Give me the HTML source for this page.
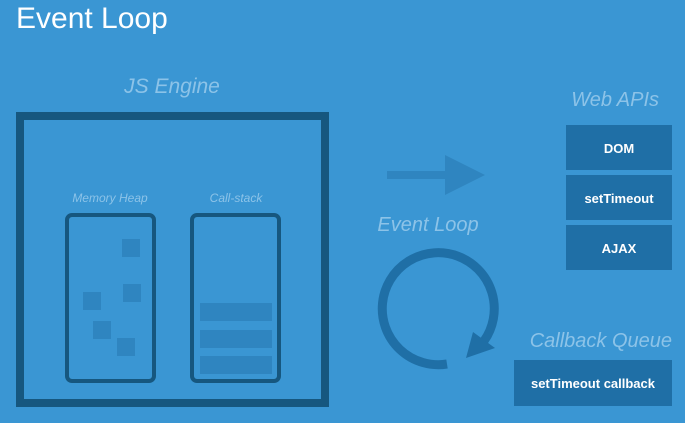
<!DOCTYPE html>
<html><head><meta charset="utf-8"><style>
html,body{margin:0;padding:0;background:#3a96d3;}
svg{display:block}
</style></head><body>
<svg width="685" height="423" viewBox="0 0 685 423" xmlns="http://www.w3.org/2000/svg" font-family="Liberation Sans, sans-serif">
<rect width="685" height="423" fill="#3a96d3"/>
<text x="16" y="28" font-size="30" fill="#ffffff">Event Loop</text>
<text x="172" y="93" font-size="21" font-style="italic" fill="#8cc3e8" text-anchor="middle">JS Engine</text>
<rect x="20" y="116" width="305" height="287" fill="none" stroke="#16577f" stroke-width="8"/>
<text x="110" y="202" font-size="12" font-style="italic" fill="#8cc3e8" text-anchor="middle">Memory Heap</text>
<text x="236" y="202" font-size="12" font-style="italic" fill="#8cc3e8" text-anchor="middle">Call-stack</text>
<rect x="67" y="215" width="87" height="166" rx="5" fill="none" stroke="#16577f" stroke-width="4"/>
<rect x="192" y="215" width="87" height="166" rx="5" fill="none" stroke="#16577f" stroke-width="4"/>
<g fill="#2f85c0">
<rect x="122" y="239" width="18" height="18"/>
<rect x="123" y="284" width="18" height="18"/>
<rect x="83" y="292" width="18" height="18"/>
<rect x="93" y="321" width="18" height="18"/>
<rect x="117" y="338" width="18" height="18"/>
<rect x="200" y="303" width="72" height="18"/>
<rect x="200" y="330" width="72" height="18"/>
<rect x="200" y="356" width="72" height="18"/>
</g>
<rect x="387" y="171" width="60" height="8" fill="#2f85c0"/>
<polygon points="445,155 485,175 445,195" fill="#2f85c0"/>
<text x="428" y="231" font-size="20" font-style="italic" fill="#8cc3e8" text-anchor="middle">Event Loop</text>
<path d="M447,364 A56,56 0 1 1 484,341" fill="none" stroke="#1f6fa6" stroke-width="9"/>
<polygon points="495,348 473,332 466,358" fill="#1f6fa6"/>
<text x="659" y="106" font-size="20" font-style="italic" fill="#8cc3e8" text-anchor="end">Web APIs</text>
<g fill="#1f6fa6">
<rect x="566" y="125" width="106" height="45"/>
<rect x="566" y="175" width="106" height="45"/>
<rect x="566" y="225" width="106" height="45"/>
<rect x="514" y="360" width="158" height="46"/>
</g>
<g fill="#ffffff" font-size="13" font-weight="bold" text-anchor="middle">
<text x="619" y="153">DOM</text>
<text x="619" y="203">setTimeout</text>
<text x="619" y="253">AJAX</text>
<text x="593" y="388">setTimeout callback</text>
</g>
<text x="672" y="347" font-size="20" font-style="italic" fill="#8cc3e8" text-anchor="end">Callback Queue</text>
</svg>
</body></html>
